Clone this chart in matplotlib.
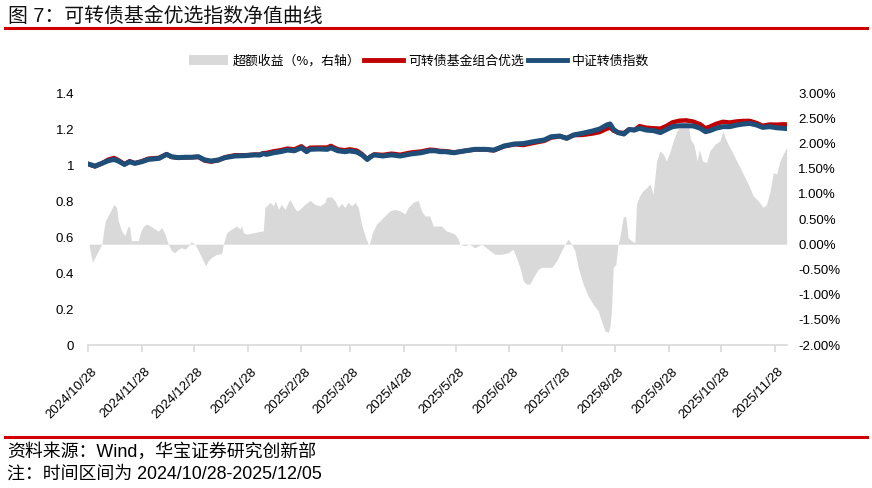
import numpy as np
import pandas as pd
import matplotlib
matplotlib.use('Agg')
import matplotlib.pyplot as plt
from matplotlib.lines import Line2D
from matplotlib.patches import Patch
from matplotlib import transforms
from matplotlib.ticker import FuncFormatter

plt.rcParams['font.family'] = ['Liberation Sans', 'Noto Sans CJK SC', 'DejaVu Sans']
CJK = ['Noto Sans CJK SC', 'DejaVu Sans']
MIX = ['Liberation Sans', 'Noto Sans CJK SC', 'DejaVu Sans']

START = pd.Timestamp('2024-10-28')
END = pd.Timestamp('2025-12-05')

# calendar days after START
nav_day = [0, 4, 8, 11.7, 15, 17.5, 21, 24, 27, 31, 34.8, 41, 45.3, 48.2, 52, 56, 59.8, 63.6,
           67.4, 71, 75.1, 79, 84.7, 90.5, 96.3, 99, 101, 103, 107, 111, 115, 119, 123, 126,
           128, 133, 138, 140, 144, 148, 151, 155, 158, 161, 163, 165, 170, 175, 180, 186,
           192, 197, 200, 203, 206, 211, 217, 223, 229, 234, 240, 246, 251, 257, 263, 267,
           272, 276, 280, 285, 291, 295, 299, 301, 303, 305.6, 309, 312, 315, 318, 322, 326,
           330, 333.5, 337, 341, 345, 349, 353, 356, 358.5, 362, 366, 370, 374, 378, 381.6,
           385.5, 389, 393, 397, 401, 403]
index_nav = [1.006, 0.994, 1.009, 1.024, 1.031, 1.022, 1.003, 1.018, 1.009, 1.018, 1.031, 1.037,
             1.059, 1.046, 1.041, 1.043, 1.043, 1.046, 1.028, 1.022, 1.028, 1.041, 1.050, 1.052,
             1.056, 1.055, 1.063, 1.059, 1.068, 1.074, 1.083, 1.079, 1.096, 1.074, 1.087, 1.089,
             1.087, 1.096, 1.079, 1.074, 1.078, 1.072, 1.056, 1.031, 1.046, 1.056, 1.050, 1.056,
             1.050, 1.061, 1.068, 1.079, 1.079, 1.074, 1.074, 1.068, 1.078, 1.087, 1.087, 1.083,
             1.106, 1.117, 1.119, 1.130, 1.139, 1.157, 1.161, 1.148, 1.167, 1.176, 1.189, 1.200,
             1.222, 1.228, 1.197, 1.180, 1.172, 1.197, 1.194, 1.204, 1.194, 1.191, 1.180, 1.197,
             1.213, 1.218, 1.218, 1.217, 1.204, 1.185, 1.191, 1.204, 1.213, 1.213, 1.222, 1.228,
             1.231, 1.222, 1.209, 1.213, 1.207, 1.204, 1.202]
fund_nav = [1.006, 0.992, 1.009, 1.030, 1.039, 1.027, 1.005, 1.021, 1.010, 1.021, 1.035, 1.040,
            1.060, 1.045, 1.040, 1.042, 1.043, 1.045, 1.024, 1.019, 1.026, 1.043, 1.054, 1.054,
            1.058, 1.058, 1.066, 1.067, 1.076, 1.082, 1.091, 1.087, 1.104, 1.083, 1.096, 1.097,
            1.097, 1.106, 1.087, 1.082, 1.087, 1.080, 1.060, 1.032, 1.047, 1.059, 1.056, 1.063,
            1.057, 1.069, 1.075, 1.085, 1.083, 1.078, 1.077, 1.070, 1.078, 1.086, 1.086, 1.081,
            1.104, 1.115, 1.111, 1.123, 1.134, 1.152, 1.159, 1.149, 1.166, 1.167, 1.175, 1.183,
            1.201, 1.208, 1.191, 1.180, 1.178, 1.198, 1.194, 1.216, 1.207, 1.204, 1.202, 1.217,
            1.237, 1.246, 1.248, 1.241, 1.226, 1.204, 1.213, 1.228, 1.240, 1.236, 1.242, 1.245,
            1.245, 1.233, 1.218, 1.225, 1.224, 1.226, 1.225]

excess_day = [0.6, 2.5, 6, 8, 9, 10, 13, 15, 16.5, 17.5, 19.4, 21.3, 23, 24, 25, 29, 30.5, 32, 34,
              36, 38.6, 40.5, 42.5, 44.4, 46.3, 48.2, 50, 52, 54, 56, 58, 59.4, 61.7, 63.6, 65.5,
              67.8, 69.3, 71.3, 74.2, 77, 78, 80, 82.8, 85.7, 87.6, 88.6, 89.5, 91.5, 100, 101,
              102, 105, 107, 108, 109.7, 111.6, 113.5, 116.4, 118.3, 120.3, 122, 125, 128, 130.8,
              133.7, 136.6, 137.5, 140.4, 142.4, 144.3, 146.2, 148, 150, 152, 154, 155.8, 157.7,
              160, 162, 164, 166.4, 170.2, 174, 177, 180, 182.7, 184.6, 187.5, 190.4, 192.3,
              194.2, 197, 199, 201, 203.8, 206.7, 209.6, 211.5, 213.4, 214.4, 217.3, 220, 223,
              227, 230.7, 234.6, 238.4, 242.3, 245, 247, 249, 251, 252.8, 254.8, 256.7, 259.6,
              261.5, 264.4, 267.3, 270.2, 273, 275.4, 276.9, 278.8, 280.7, 282.6, 285.5, 288.4,
              291.2, 294.1, 296, 298, 300, 301, 301.8, 302.8, 304.3, 305.6, 306.6, 308.5, 310,
              311.4, 313.3, 315.3, 316.2, 318, 320, 322, 324, 325.8, 327.8, 329.7, 331.6, 333.5,
              335.4, 337.4, 339.3, 341.2, 343.1, 345.4, 347.4, 349.3, 351.2, 352.4, 354.3, 356.6,
              358.5, 361.4, 364.3, 366.2, 367.2, 369.1, 372, 374, 376.8, 379.7, 381.6, 383.5,
              386.4, 389.3, 391.2, 393.1, 395.1, 397, 398.9, 400.8, 402.8]
excess_pct = [0.0, -0.36, -0.13, 0.0, 0.26, 0.46, 0.66, 0.79, 0.73, 0.46, 0.26, 0.17, 0.36, 0.33,
              0.07, 0.07, 0.26, 0.36, 0.40, 0.36, 0.30, 0.26, 0.33, 0.20, 0.0, -0.13, -0.17, -0.10,
              -0.07, -0.10, -0.03, 0.05, 0.0, -0.13, -0.26, -0.43, -0.33, -0.26, -0.20, -0.19, 0.0,
              0.23, 0.30, 0.36, 0.30, 0.36, 0.23, 0.20, 0.26, 0.26, 0.73, 0.83, 0.76, 0.86, 0.69,
              0.79, 0.69, 0.89, 0.76, 0.66, 0.69, 0.79, 0.87, 0.79, 0.76, 0.83, 0.93, 0.94, 0.86,
              0.73, 0.81, 0.73, 0.83, 0.76, 0.83, 0.73, 0.40, 0.13, -0.03, 0.23, 0.40, 0.53, 0.66,
              0.69, 0.66, 0.60, 0.73, 0.83, 0.87, 0.66, 0.56, 0.56, 0.36, 0.36, 0.36, 0.26, 0.23,
              0.20, 0.10, 0.0, -0.03, 0.0, -0.07, 0.0, -0.10, -0.20, -0.20, -0.17, -0.10, -0.26,
              -0.46, -0.73, -0.79, -0.79, -0.66, -0.50, -0.46, -0.46, -0.46, -0.33, -0.13, 0.03,
              0.10, 0.0, -0.13, -0.46, -0.79, -1.03, -1.19, -1.32, -1.52, -1.72, -1.75, -1.62,
              -1.32, -0.46, -0.40, 0.0, 0.13, 0.53, 0.56, 0.13, 0.07, 0.03, 0.79, 0.96, 1.06, 1.12,
              1.20, 0.99, 1.65, 1.85, 1.79, 1.65, 1.82, 2.05, 2.22, 2.35, 2.35, 2.51, 2.08, 1.98,
              1.65, 1.88, 1.65, 1.62, 1.85, 1.98, 2.05, 2.25, 2.12, 1.98, 1.79, 1.65, 1.46, 1.26,
              1.12, 0.96, 0.86, 0.73, 0.79, 1.03, 1.42, 1.39, 1.65, 1.79, 1.92]

tick_dates = [START + pd.DateOffset(months=i) for i in range(14)]
tick_labels = [f'{d.year}/{d.month}/{d.day}' for d in tick_dates]

RED = '#C00000'
BLUE = '#1F4E79'
GREY = '#D9D9D9'

nav_x = START + pd.to_timedelta(nav_day, unit='D')
ex_x = START + pd.to_timedelta(excess_day, unit='D')

fig = plt.figure(figsize=(8.72, 4.88), dpi=100)
ax = fig.add_axes([88 / 872, 143 / 488, 699 / 872, 252 / 488])
ax2 = ax.twinx()
ax.set_zorder(2)
ax.patch.set_visible(False)

ax2.fill_between(ex_x, 0, excess_pct, color=GREY, lw=0)
ax2.set_ylim(-2, 3)
ax2.set_yticks(np.arange(-2, 3.01, 0.5))
ax2.yaxis.set_major_formatter(FuncFormatter(lambda v, p: f'{v:.2f}%'))

ax.plot(nav_x, fund_nav, color=RED, lw=3.2, solid_capstyle='round')
ax.plot(nav_x, index_nav, color=BLUE, lw=3.6, solid_capstyle='round')
ax.set_ylim(0, 1.4)
ax.set_yticks(np.arange(0, 1.41, 0.2))
ax.yaxis.set_major_formatter(FuncFormatter(lambda v, p: f'{v:g}'))
ax.set_xlim(START, END)

for a in (ax, ax2):
    for s in a.spines.values():
        s.set_visible(False)
ax.spines['bottom'].set_visible(True)
ax.spines['bottom'].set_color(GREY)
ax.spines['bottom'].set_linewidth(1.2)

ax.tick_params(axis='y', length=0, labelsize=9.5, pad=10, colors='#000000')
ax2.tick_params(axis='y', length=0, labelsize=9.5, pad=8, colors='#000000')
ax.set_xticks(tick_dates)
ax.set_xticklabels(tick_labels, rotation=45, ha='right', va='center',
                   rotation_mode='anchor', fontsize=9.5)
ax.tick_params(axis='x', length=5, width=1.2, color=GREY, pad=13)
shift = transforms.ScaledTranslation(7 / 100, 0, fig.dpi_scale_trans)
for lab in ax.get_xticklabels():
    lab.set_transform(lab.get_transform() + shift)

handles = [Patch(color=GREY, lw=0),
           Line2D([], [], color=RED, lw=3.5),
           Line2D([], [], color=BLUE, lw=3.5)]
labels = ['超额收益（%，右轴）', '可转债基金组合优选', '中证转债指数']
fig.legend(handles, labels, loc='center', bbox_to_anchor=(419 / 872, 1 - 61 / 488), ncol=3,
           frameon=False, prop={'family': CJK, 'size': 9.3}, handlelength=3.0,
           handleheight=0.9, handletextpad=0.4, columnspacing=0.3)

fig.text(8 / 872, 1 - 16 / 488, '图 7：可转债基金优选指数净值曲线', family=MIX, fontsize=14.3,
         va='center', ha='left', color='#111111')
fig.add_artist(Line2D([5 / 872, 867 / 872], [1 - 28 / 488] * 2, color='#D00000', lw=2.2))
fig.add_artist(Line2D([5 / 872, 867 / 872], [1 - 437 / 488] * 2, color='#D00000', lw=2.2))
fig.text(7 / 872, 1 - 452 / 488, '资料来源：Wind，华宝证券研究创新部', family=MIX, fontsize=12.9,
         va='center', ha='left')
fig.text(7 / 872, 1 - 474 / 488, '注：时间区间为 2024/10/28-2025/12/05', family=MIX, fontsize=12.9,
         va='center', ha='left')

fig.savefig('out.png', dpi=100)
